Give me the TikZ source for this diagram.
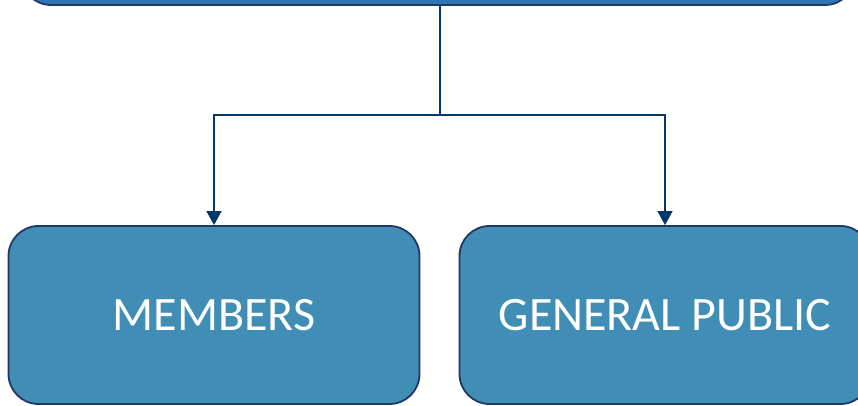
\documentclass[tikz,border=0pt]{standalone}
\usepackage{fontspec}
\setmainfont{Carlito}
\usetikzlibrary{arrows.meta}
\definecolor{boxNavy}{RGB}{31,56,100}
\definecolor{lineNavy}{RGB}{0,56,105}
\definecolor{topBlue}{RGB}{46,117,182}
\definecolor{boxBlue}{RGB}{64,141,181}

\begin{document}
\begin{tikzpicture}[x=1pt,y=1pt,
    block/.style={draw=boxNavy,line width=1.8pt,rounded corners=30pt,
        minimum width=411pt,minimum height=178pt,inner sep=0pt,
        text=white,font=\fontsize{48}{58}\selectfont},
    link/.style={draw=lineNavy,line width=1.3pt},
    tip/.style={-{Triangle[width=15pt,length=14pt]}}]
        % frame
        \useasboundingbox (0,0) rectangle (858,406);
        \clip (0,0) rectangle (858,406);
        % boxes
        \node[block,fill=topBlue,minimum width=834pt,minimum height=120pt] (prog) at (438,461) {};
        \node[block,fill=boxBlue] (members) at (214,91) {MEMBERS};
        \node[block,fill=boxBlue] (public) at (665,91) {GENERAL PUBLIC};
        % connectors
        \coordinate (split) at (440,291);
        \draw[link] (prog.south -| split) -- (split);
        \draw[link,tip] (split) -| (members.north);
        \draw[link,tip] (split) -| (public.north);
    \end{tikzpicture}
\end{document}
